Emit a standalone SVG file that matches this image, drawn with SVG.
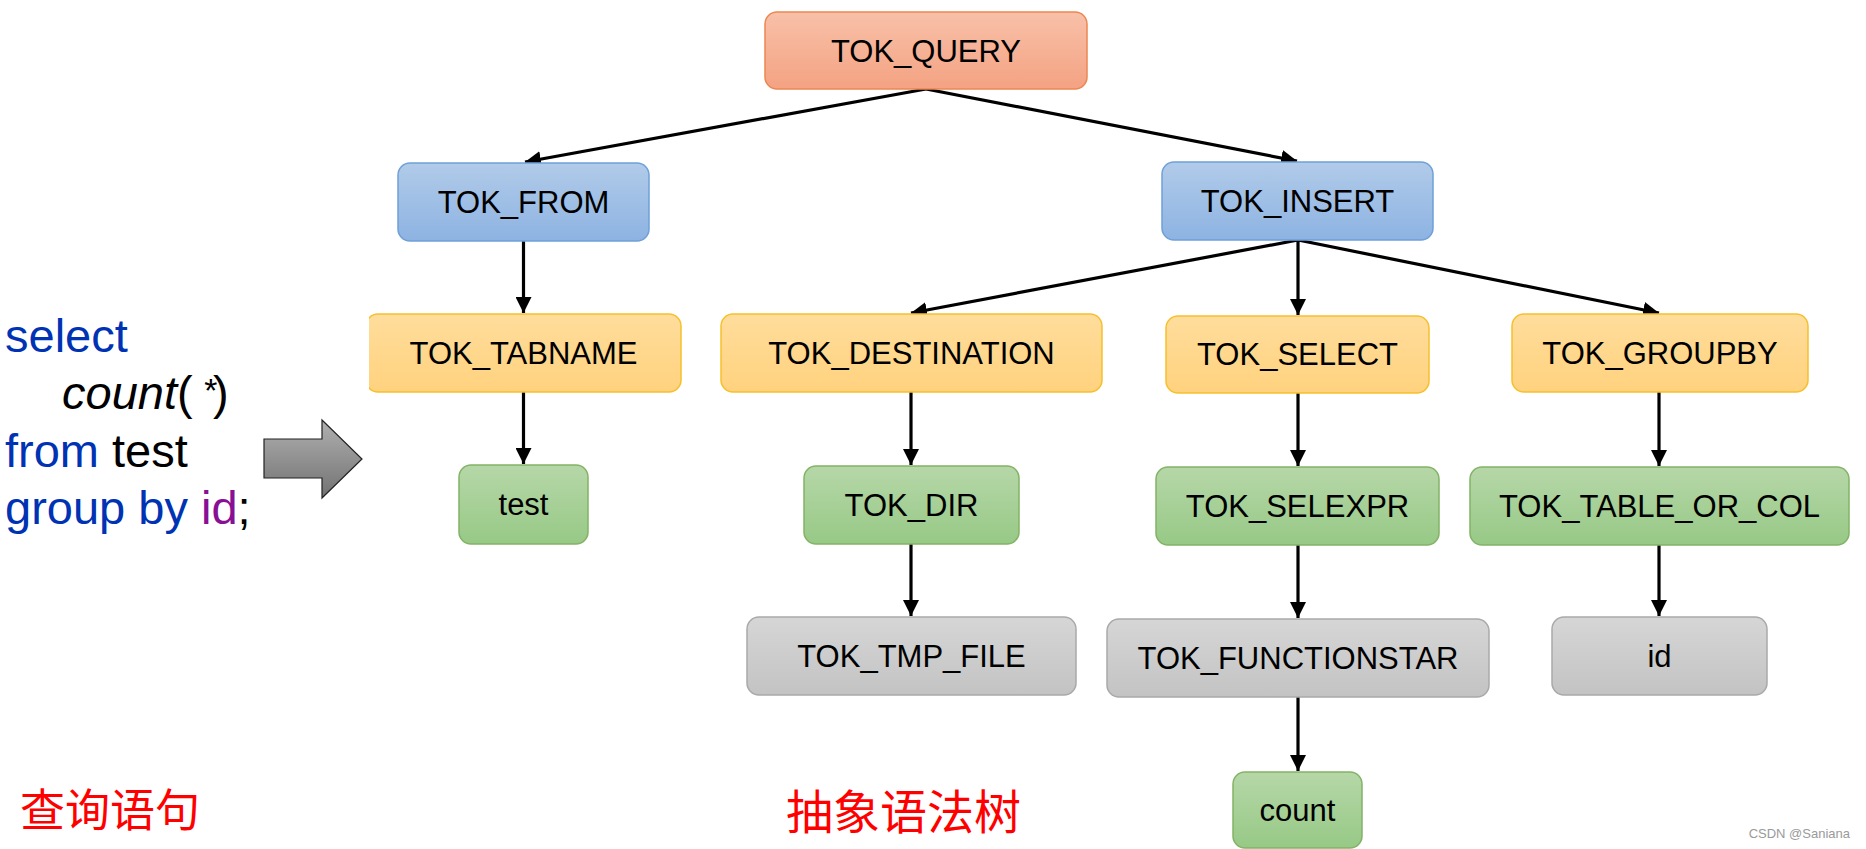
<svg xmlns="http://www.w3.org/2000/svg" width="1866" height="849" viewBox="0 0 1866 849">
<defs>
<linearGradient id="gOrange" x1="0" y1="0" x2="0" y2="1"><stop offset="0" stop-color="#F8C1A9"/><stop offset="1" stop-color="#F4A282"/></linearGradient>
<linearGradient id="gBlue" x1="0" y1="0" x2="0" y2="1"><stop offset="0" stop-color="#B1CBE9"/><stop offset="1" stop-color="#8DB3E2"/></linearGradient>
<linearGradient id="gYellow" x1="0" y1="0" x2="0" y2="1"><stop offset="0" stop-color="#FFDD9C"/><stop offset="1" stop-color="#FFD27E"/></linearGradient>
<linearGradient id="gGreen" x1="0" y1="0" x2="0" y2="1"><stop offset="0" stop-color="#B6D7A8"/><stop offset="1" stop-color="#97C986"/></linearGradient>
<linearGradient id="gGray" x1="0" y1="0" x2="0" y2="1"><stop offset="0" stop-color="#D6D6D6"/><stop offset="1" stop-color="#C3C3C3"/></linearGradient>
<linearGradient id="gArrow" x1="0" y1="0" x2="0" y2="1"><stop offset="0" stop-color="#B0B0B0"/><stop offset="1" stop-color="#727272"/></linearGradient>
<marker id="ah" viewBox="0 0 10 10" refX="10" refY="5" markerWidth="5" markerHeight="5" markerUnits="strokeWidth" orient="auto"><path d="M0,0 L10,5 L0,10 z" fill="#000"/></marker>
<clipPath id="clipTab"><rect x="369" y="300" width="330" height="100"/></clipPath>
</defs>
<style>
.node rect{stroke-width:1.5}
.orange rect{fill:url(#gOrange);stroke:#EC8752}
.blue rect{fill:url(#gBlue);stroke:#6FA0D8}
.yellow rect{fill:url(#gYellow);stroke:#F6C02D}
.green rect{fill:url(#gGreen);stroke:#82B366}
.gray rect{fill:url(#gGray);stroke:#A9A9A9}
.node text{font-family:"Liberation Sans",Arial,sans-serif;font-size:31px;fill:#000;text-anchor:middle}
.edges line{stroke:#000;stroke-width:3.2;marker-end:url(#ah)}
.sql{font-family:"Liberation Sans",Arial,sans-serif;font-size:47px}
.cn{font-family:"Noto Sans CJK SC",sans-serif;fill:#FF0000}
</style>
<rect width="1866" height="849" fill="#FFFFFF"/>

<g id="sql-text" class="sql">
<text x="5" y="352" fill="#0033B3">select</text>
<text x="62" y="409" fill="#000" font-style="italic">count<tspan font-style="normal">(</tspan><tspan dx="10" dy="-7" font-size="34">*</tspan><tspan dx="-3" dy="7" font-style="normal">)</tspan></text>
<text x="5" y="467" fill="#0033B3">from <tspan fill="#000">test</tspan></text>
<text x="5" y="524" fill="#0033B3">group by <tspan fill="#871094">id</tspan><tspan fill="#000">;</tspan></text>
</g>

<g id="big-arrow">
<path d="M264,439 L322,439 L322,420 L362,459 L322,498 L322,478 L264,478 Z" fill="url(#gArrow)" stroke="#222" stroke-width="1.2"/>
</g>

<g id="label-query"><text class="cn" x="20" y="827" font-size="45">查询语句</text></g>
<g id="label-ast"><text class="cn" x="786" y="829" font-size="47">抽象语法树</text></g>

<g class="edges" id="connectors">
<line x1="926" y1="89" x2="525" y2="162"/>
<line x1="926" y1="89" x2="1297" y2="161"/>
<line x1="523.5" y1="241" x2="523.5" y2="313"/>
<line x1="523.5" y1="392" x2="523.5" y2="464"/>
<line x1="1298" y1="240" x2="911" y2="313"/>
<line x1="1298" y1="240" x2="1298" y2="315"/>
<line x1="1298" y1="240" x2="1659" y2="313"/>
<line x1="911" y1="392" x2="911" y2="465"/>
<line x1="911" y1="544" x2="911" y2="616"/>
<line x1="1298" y1="393" x2="1298" y2="466"/>
<line x1="1298" y1="545" x2="1298" y2="618"/>
<line x1="1298" y1="697" x2="1298" y2="771"/>
<line x1="1659" y1="392" x2="1659" y2="466"/>
<line x1="1659" y1="545" x2="1659" y2="616"/>
</g>

<g id="TOK_QUERY" class="node orange"><rect x="765" y="12" width="322" height="77" rx="12"/><text x="926" y="62">TOK_QUERY</text></g>
<g id="TOK_FROM" class="node blue"><rect x="398" y="163" width="251" height="78" rx="12"/><text x="523.5" y="213">TOK_FROM</text></g>
<g id="TOK_INSERT" class="node blue"><rect x="1162" y="162" width="271" height="78" rx="12"/><text x="1297.5" y="212">TOK_INSERT</text></g>
<g id="TOK_TABNAME" class="node yellow"><rect x="366" y="314" width="315" height="78" rx="12" clip-path="url(#clipTab)"/><text x="523.5" y="364">TOK_TABNAME</text></g>
<g id="TOK_DESTINATION" class="node yellow"><rect x="721" y="314" width="381" height="78" rx="12"/><text x="911.5" y="364">TOK_DESTINATION</text></g>
<g id="TOK_SELECT" class="node yellow"><rect x="1166" y="316" width="263" height="77" rx="12"/><text x="1297.5" y="365">TOK_SELECT</text></g>
<g id="TOK_GROUPBY" class="node yellow"><rect x="1512" y="314" width="296" height="78" rx="12"/><text x="1660" y="364">TOK_GROUPBY</text></g>
<g id="test" class="node green"><rect x="459" y="465" width="129" height="79" rx="12"/><text x="523.5" y="515">test</text></g>
<g id="TOK_DIR" class="node green"><rect x="804" y="466" width="215" height="78" rx="12"/><text x="911.5" y="516">TOK_DIR</text></g>
<g id="TOK_SELEXPR" class="node green"><rect x="1156" y="467" width="283" height="78" rx="12"/><text x="1297.5" y="517">TOK_SELEXPR</text></g>
<g id="TOK_TABLE_OR_COL" class="node green"><rect x="1470" y="467" width="379" height="78" rx="12"/><text x="1659.5" y="517">TOK_TABLE_OR_COL</text></g>
<g id="TOK_TMP_FILE" class="node gray"><rect x="747" y="617" width="329" height="78" rx="12"/><text x="911.5" y="667">TOK_TMP_FILE</text></g>
<g id="TOK_FUNCTIONSTAR" class="node gray"><rect x="1107" y="619" width="382" height="78" rx="12"/><text x="1298" y="669">TOK_FUNCTIONSTAR</text></g>
<g id="id" class="node gray"><rect x="1552" y="617" width="215" height="78" rx="12"/><text x="1659.5" y="667">id</text></g>
<g id="count" class="node green"><rect x="1233" y="772" width="129" height="76" rx="12"/><text x="1297.5" y="821">count</text></g>

<g id="watermark"><text x="1850" y="838" text-anchor="end" font-family="'Liberation Sans',Arial,sans-serif" font-size="13" fill="#9A9A9A">CSDN @Saniana</text></g>
</svg>
